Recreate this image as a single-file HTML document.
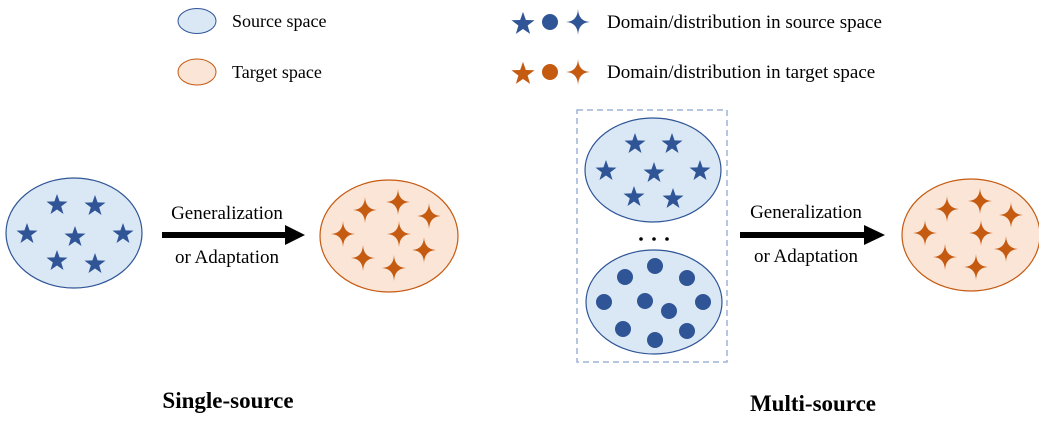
<!DOCTYPE html>
<html><head><meta charset="utf-8"><style>
html,body{margin:0;padding:0;background:#fff;}
svg{display:block;}
text{font-family:"Liberation Serif",serif;}
</style></head><body>
<svg width="1039" height="422" viewBox="0 0 1039 422" xmlns="http://www.w3.org/2000/svg">
<defs>
<path id="st" d="M0,-11 L2.6,-3.6 L10.5,-3.4 L4.2,1.4 L6.5,9 L0,4.5 L-6.5,9 L-4.2,1.4 L-10.5,-3.4 L-2.6,-3.6 Z"/>
<path id="fs" d="M0,-13 Q0.6,-0.6 12,0 Q0.6,0.6 0,13 Q-0.6,0.6 -12,0 Q-0.6,-0.6 0,-13 Z"/>
</defs>
<!-- legend -->
<ellipse cx="197" cy="21" rx="19" ry="12.5" fill="#dae8f5" stroke="#2f5597" stroke-width="1"/>
<text x="232" y="27" font-size="18">Source space</text>
<ellipse cx="197" cy="72" rx="19" ry="13" fill="#fbe5d6" stroke="#c55a11" stroke-width="1"/>
<text x="232" y="78" font-size="18">Target space</text>
<use href="#st" x="523" y="24" fill="#2f5597" transform="translate(523,24) scale(1.1) translate(-523,-24)"/>
<circle cx="550" cy="22" r="8" fill="#2f5597"/>
<use href="#fs" x="578" y="22" fill="#2f5597"/>
<text x="607" y="28" font-size="19">Domain/distribution in source space</text>
<use href="#st" x="523" y="74" fill="#c55a11" transform="translate(523,74) scale(1.1) translate(-523,-74)"/>
<circle cx="550" cy="72" r="8" fill="#c55a11"/>
<use href="#fs" x="578" y="72" fill="#c55a11"/>
<text x="607" y="78" font-size="19">Domain/distribution in target space</text>

<!-- single source -->
<ellipse cx="74" cy="233" rx="68" ry="55" fill="#dae8f5" stroke="#2f5597" stroke-width="1.2"/>
<g fill="#2f5597">
<use href="#st" x="57" y="205"/><use href="#st" x="95" y="206"/><use href="#st" x="27" y="234"/>
<use href="#st" x="75" y="237"/><use href="#st" x="123" y="234"/><use href="#st" x="57" y="261"/><use href="#st" x="95" y="264"/>
</g>
<rect x="162" y="232" width="126" height="6" fill="#000"/>
<polygon points="285,225 305,235 285,245" fill="#000"/>
<text x="227" y="219" font-size="19" text-anchor="middle">Generalization</text>
<text x="227" y="263" font-size="19" text-anchor="middle">or Adaptation</text>
<ellipse cx="389" cy="236" rx="69" ry="56" fill="#fbe5d6" stroke="#c55a11" stroke-width="1.2"/>
<g fill="#c55a11">
<use href="#fs" x="365" y="210"/><use href="#fs" x="398" y="202"/><use href="#fs" x="429" y="216"/>
<use href="#fs" x="343" y="234"/><use href="#fs" x="399" y="234"/><use href="#fs" x="424" y="250"/>
<use href="#fs" x="363" y="258"/><use href="#fs" x="394" y="268"/>
</g>
<text x="228" y="408" font-size="23" font-weight="bold" text-anchor="middle">Single-source</text>

<!-- multi source -->
<rect x="577" y="110" width="150" height="252" fill="none" stroke="#9fb4d6" stroke-width="1.5" stroke-dasharray="6,4"/>
<ellipse cx="653" cy="170" rx="68" ry="52" fill="#dae8f5" stroke="#2f5597" stroke-width="1.2"/>
<g fill="#2f5597">
<use href="#st" x="635" y="144"/><use href="#st" x="672" y="144"/><use href="#st" x="606" y="171"/>
<use href="#st" x="654" y="173"/><use href="#st" x="700" y="171"/><use href="#st" x="634" y="197"/><use href="#st" x="673" y="199"/>
</g>
<g fill="#000"><circle cx="641" cy="239" r="1.8"/><circle cx="654" cy="239" r="1.8"/><circle cx="667" cy="239" r="1.8"/></g>
<ellipse cx="654" cy="302" rx="68" ry="52" fill="#dae8f5" stroke="#2f5597" stroke-width="1.2"/>
<g fill="#2f5597">
<circle cx="625" cy="277" r="8"/><circle cx="655" cy="266" r="8"/><circle cx="687" cy="278" r="8"/>
<circle cx="604" cy="302" r="8"/><circle cx="645" cy="301" r="8"/><circle cx="669" cy="311" r="8"/><circle cx="703" cy="302" r="8"/>
<circle cx="623" cy="329" r="8"/><circle cx="655" cy="340" r="8"/><circle cx="687" cy="331" r="8"/>
</g>
<rect x="740" y="232" width="127" height="6" fill="#000"/>
<polygon points="864,225 885,235 864,245" fill="#000"/>
<text x="806" y="218" font-size="19" text-anchor="middle">Generalization</text>
<text x="806" y="262" font-size="19" text-anchor="middle">or Adaptation</text>
<ellipse cx="971" cy="235" rx="69" ry="56" fill="#fbe5d6" stroke="#c55a11" stroke-width="1.2"/>
<g fill="#c55a11" transform="translate(582,-1)">
<use href="#fs" x="365" y="210"/><use href="#fs" x="398" y="202"/><use href="#fs" x="429" y="216"/>
<use href="#fs" x="343" y="234"/><use href="#fs" x="399" y="234"/><use href="#fs" x="424" y="250"/>
<use href="#fs" x="363" y="258"/><use href="#fs" x="394" y="268"/>
</g>
<text x="813" y="411" font-size="23" font-weight="bold" text-anchor="middle">Multi-source</text>
</svg>
</body></html>
